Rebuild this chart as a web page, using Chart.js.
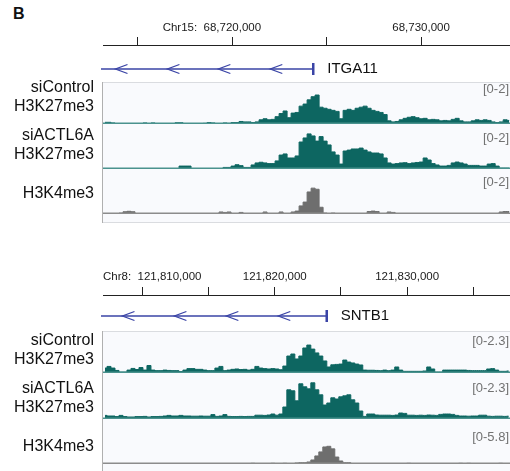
<!DOCTYPE html>
<html>
<head>
<meta charset="utf-8">
<script src="https://cdn.jsdelivr.net/npm/chart.js@4.4.0/dist/chart.umd.min.js"></script>
<style>
  body { margin: 0; background: #fff; width: 510px; height: 471px; position: relative; overflow: hidden; font-family: "Liberation Sans", Arial, sans-serif; }
  canvas { position: absolute; left: 0; }
  #c1 { top: 0; }
  #c2 { top: 245px; }
  .panel-tag { position: absolute; left: 13px; top: 5px; font: bold 16px "Liberation Sans", Arial, sans-serif; color: #111; }
</style>
</head>
<body>
<div class="panel-tag">B</div>
<canvas id="c1" width="510" height="240"></canvas>
<canvas id="c2" width="510" height="226"></canvas>
<script>
// ---------- panel 1: ITGA11 locus ----------
const p1Chrom = 'Chr15';
const p1Window = [68713148, 68734709];
const p1BinStart = 68713254;
const p1BinStep = 212;
const p1Gene = { name: 'ITGA11', start: 68700000, end: 68724286 };
const p1Arrows = [68713810, 68716561, 68719259, 68722011];
const p1TrackNames = [['siControl', 'H3K27me3'], ['siACTL6A', 'H3K27me3'], ['H3K4me3']];
const p1TrackMax = [2, 2, 2];

const p1SiControl = [
  0.08, 0.08, 0.05, 0, 0, 0, 0, 0, 0, 0,
  0.05, 0, 0.05, 0, 0, 0, 0, 0, 0.06, 0.06,
  0, 0, 0, 0, 0, 0.03, 0.07, 0.05, 0, 0.02,
  0.05, 0.03, 0.07, 0.07, 0.12, 0.10, 0.10, 0.07, 0.10, 0.20,
  0.25, 0.20, 0.22, 0.35, 0.50, 0.62, 0.30, 0.52, 0.55, 0.85,
  0.95, 1.15, 1.30, 1.38, 0.80, 0.75, 0.70, 0.65, 0.60, 0.25,
  0.65, 0.70, 0.65, 0.75, 0.80, 0.85, 0.75, 0.65, 0.60, 0.55,
  0.45, 0.15, 0.10, 0.12, 0.20, 0.27, 0.32, 0.35, 0.30, 0.25,
  0.27, 0.20, 0.22, 0.20, 0.15, 0.17, 0.15, 0.22, 0.27, 0.15,
  0.10, 0.10, 0.15, 0.20, 0.17, 0.20, 0.17, 0.10, 0.07, 0.10,
  0.20, 0.17
];
const p1SiACTL6A = [
  0, 0, 0, 0, 0, 0, 0, 0, 0, 0,
  0, 0, 0, 0, 0, 0, 0, 0, 0, 0.13,
  0.13, 0.13, 0, 0.02, 0, 0, 0, 0, 0, 0.02,
  0.07, 0.07, 0.13, 0.19, 0.15, 0.07, 0.07, 0.18, 0.27, 0.30,
  0.27, 0.24, 0.24, 0.36, 0.62, 0.67, 0.49, 0.49, 0.58, 1.20,
  1.38, 1.56, 1.47, 1.24, 1.44, 1.24, 1.07, 0.76, 0.62, 0.22,
  0.80, 0.84, 0.89, 0.89, 0.93, 0.84, 0.76, 0.71, 0.71, 0.67,
  0.49, 0.27, 0.22, 0.24, 0.27, 0.28, 0.24, 0.27, 0.29, 0.31,
  0.49, 0.40, 0.24, 0.18, 0.13, 0.13, 0.16, 0.27, 0.31, 0.27,
  0.22, 0.16, 0.16, 0.16, 0.13, 0.13, 0.22, 0.24, 0.13, 0.04,
  0.04, 0.04
];
const p1H3K4me3 = [
  0, 0, 0, 0, 0.04, 0.10, 0.12, 0.10, 0, 0,
  0, 0, 0, 0, 0, 0, 0, 0, 0, 0,
  0, 0, 0, 0, 0, 0, 0, 0, 0, 0.09,
  0.07, 0.09, 0, 0, 0.07, 0, 0, 0, 0, 0,
  0.09, 0, 0, 0, 0.09, 0.02, 0, 0.09, 0.13, 0.36,
  0.53, 0.98, 1.15, 1.10, 0.30, 0.04, 0.02, 0.04, 0, 0,
  0, 0, 0, 0, 0, 0, 0.11, 0.13, 0.11, 0,
  0, 0.09, 0.07, 0, 0, 0, 0, 0, 0, 0,
  0, 0, 0, 0, 0, 0, 0, 0, 0, 0,
  0, 0, 0, 0, 0, 0, 0, 0, 0, 0.09,
  0.11, 0.11
];

// ---------- panel 2: SNTB1 locus ----------
const p2Chrom = 'Chr8';
const p2Window = [121807019, 121837774];
const p2BinStart = 121807170;
const p2BinStep = 302;
const p2Gene = { name: 'SNTB1', start: 121790000, end: 121823925 };
const p2Arrows = [121808491, 121812415, 121816340, 121820264];
const p2TrackNames = [['siControl', 'H3K27me3'], ['siACTL6A', 'H3K27me3'], ['H3K4me3']];
const p2TrackMax = [2.3, 2.3, 5.8];

const p2SiControl = [
  0.27, 0.36, 0.27, 0.14, 0.05, 0.05, 0.16, 0.25, 0.19, 0.30,
  0.16, 0.41, 0.16, 0.13, 0.13, 0.16, 0.14, 0.13, 0.13, 0.08,
  0.16, 0.24, 0.24, 0.20, 0.20, 0.16, 0.13, 0.13, 0.27, 0.36,
  0.13, 0.16, 0.20, 0.22, 0.19, 0.20, 0.16, 0.20, 0.36, 0.27,
  0.24, 0.22, 0.24, 0.22, 0.18, 0.38, 0.93, 1.04, 0.77, 0.93,
  1.37, 1.53, 1.31, 1.10, 0.93, 0.66, 0.33, 0.45, 0.47, 0.49,
  0.71, 0.60, 0.55, 0.49, 0.44, 0.16, 0.15, 0.15, 0.14, 0.13,
  0.16, 0.13, 0.16, 0.33, 0.16, 0.09, 0.09, 0.09, 0.09, 0.09,
  0.11, 0.33, 0.22, 0.05, 0.05, 0.16, 0.16, 0.16, 0.16, 0.16,
  0.16, 0.14, 0.13, 0.13, 0.13, 0.13, 0.22, 0.24, 0.16, 0.09,
  0.09, 0.11
];
const p2SiACTL6A = [
  0.18, 0.15, 0.15, 0.12, 0.18, 0.12, 0.10, 0.10, 0.12, 0.12,
  0.13, 0.10, 0.12, 0.12, 0.13, 0.15, 0.18, 0.15, 0.15, 0.18,
  0.15, 0.15, 0.14, 0.14, 0.15, 0.14, 0.14, 0.22, 0.13, 0.15,
  0.22, 0.13, 0.12, 0.12, 0.13, 0.12, 0.13, 0.13, 0.19, 0.19,
  0.18, 0.20, 0.25, 0.19, 0.25, 0.60, 1.46, 1.41, 0.91, 1.76,
  1.61, 1.51, 1.81, 1.46, 1.21, 0.70, 0.80, 1.06, 1.00, 1.11,
  1.16, 1.21, 0.96, 0.80, 0.40, 0.13, 0.25, 0.25, 0.20, 0.19,
  0.19, 0.19, 0.18, 0.20, 0.30, 0.28, 0.19, 0.19, 0.18, 0.19,
  0.18, 0.20, 0.19, 0.18, 0.23, 0.25, 0.25, 0.23, 0.18, 0.15,
  0.15, 0.14, 0.15, 0.15, 0.19, 0.19, 0.14, 0.13, 0.14, 0.14,
  0.13, 0.14
];
const p2H3K4me3 = [
  0, 0, 0, 0, 0, 0, 0, 0, 0, 0,
  0, 0, 0, 0, 0, 0, 0, 0, 0, 0,
  0, 0, 0, 0, 0, 0, 0, 0, 0, 0,
  0, 0, 0, 0, 0, 0, 0, 0.09, 0.06, 0,
  0, 0, 0.09, 0, 0, 0.09, 0, 0, 0.13, 0.17,
  0.17, 0.26, 0.52, 1.04, 1.56, 2.20, 2.28, 1.95, 0.90, 0.39,
  0.17, 0.17, 0.06, 0, 0, 0, 0, 0, 0, 0,
  0, 0, 0, 0, 0, 0, 0.09, 0, 0, 0,
  0, 0, 0, 0, 0, 0, 0, 0, 0, 0.09,
  0, 0.09, 0, 0, 0, 0, 0, 0, 0, 0.09,
  0, 0
];

// ---------- drawing ----------
const FONT = '"Liberation Sans", Arial, sans-serif';
const TEAL = '#0d6661';
const GREY = '#6e6e6e';
const GENE_BLUE = '#3a44a6';
const RULER_STEP = 5000;

function stackScale(weight, max) {
  return { type: 'linear', position: 'right', stack: 'tracks', stackWeight: weight,
           min: 0, max: max || 1, display: false };
}

function makeIgvPlugin(cfg) {
  return {
    id: 'igv',
    beforeDatasetsDraw(chart) {
      const ctx = chart.ctx, area = chart.chartArea;
      const top = chart.scales.t1.top, bottom = area.bottom;
      ctx.save();
      ctx.fillStyle = '#f9fafd';
      ctx.fillRect(area.left, top, area.right - area.left, bottom - top);
      ctx.strokeStyle = '#dadce0';
      ctx.lineWidth = 1;
      ctx.beginPath();
      ctx.moveTo(area.left, top + 0.5); ctx.lineTo(area.right, top + 0.5);
      if (cfg.bottomBorder) { ctx.moveTo(area.left, bottom - 0.5); ctx.lineTo(area.right, bottom - 0.5); }
      ctx.stroke();
      ctx.strokeStyle = '#b0b0b0';
      ctx.beginPath();
      ctx.moveTo(area.left - 0.5, top); ctx.lineTo(area.left - 0.5, bottom);
      ctx.stroke();
      ctx.restore();
    },
    afterDatasetsDraw(chart) {
      const ctx = chart.ctx, area = chart.chartArea, x = chart.scales.x;
      ctx.save();

      // baselines + labels for each track
      ['t1', 't2', 't3'].forEach((id, k) => {
        const s = chart.scales[id];
        const base = s.getPixelForValue(0);
        ctx.strokeStyle = k === 2 ? '#8c8c8c' : '#4a928e';
        ctx.lineWidth = 1.5;
        ctx.beginPath();
        ctx.moveTo(area.left, base - 0.75); ctx.lineTo(area.right, base - 0.75);
        ctx.stroke();

        // track name on the left
        ctx.fillStyle = '#111';
        ctx.font = '16px ' + FONT;
        ctx.textAlign = 'right';
        ctx.textBaseline = 'middle';
        const lines = cfg.names[k];
        const mid = (s.top + s.bottom) / 2 + cfg.labelDy[k];
        lines.forEach((t, j) => {
          ctx.fillText(t, area.left - 9, mid + (j - (lines.length - 1) / 2) * 18.8);
        });

        // data range on the right
        ctx.fillStyle = '#727272';
        ctx.font = '13px ' + FONT;
        ctx.fillText('[0-' + cfg.max[k] + ']', area.right - 1, s.top + cfg.rangeDy[k]);
      });

      // gene model
      const g = chart.scales.gene;
      const gy = (g.top + g.bottom) / 2;
      const x0 = Math.max(x.getPixelForValue(cfg.gene.start), area.left - 2);
      const x1 = x.getPixelForValue(cfg.gene.end);
      ctx.strokeStyle = GENE_BLUE;
      ctx.lineWidth = 1.3;
      ctx.beginPath();
      ctx.moveTo(x0, gy); ctx.lineTo(x1, gy);
      ctx.stroke();
      cfg.arrows.forEach(pos => {
        const ax = x.getPixelForValue(pos);
        ctx.beginPath();
        ctx.moveTo(ax + 12, gy - 4.5); ctx.lineTo(ax, gy); ctx.lineTo(ax + 12, gy + 4.5);
        ctx.stroke();
      });
      ctx.lineWidth = 2.5;
      ctx.beginPath();
      ctx.moveTo(x1, gy - 6); ctx.lineTo(x1, gy + 6);
      ctx.stroke();
      ctx.fillStyle = '#111';
      ctx.font = '15px ' + FONT;
      ctx.textAlign = 'left';
      ctx.textBaseline = 'middle';
      ctx.fillText(cfg.gene.name, x1 + 14, gy);

      // ruler labels every 10 kb, first one carries the chromosome
      ctx.fillStyle = '#1a1a1a';
      ctx.font = '11.5px ' + FONT;
      ctx.textBaseline = 'middle';
      let first = true;
      x.ticks.forEach(t => {
        if (t.value % 10000 !== 0) return;
        const px = x.getPixelForValue(t.value);
        const num = t.value.toLocaleString('en-US');
        const nw = ctx.measureText(num).width;
        if (first) {
          const pre = cfg.chrom + ':  ';
          const pw = ctx.measureText(pre).width;
          const start = Math.max(px - nw / 2 - pw, area.left);
          ctx.textAlign = 'left';
          ctx.fillText(pre + num, start, cfg.rulerY);
          first = false;
        } else {
          ctx.textAlign = 'center';
          ctx.fillText(num, px, cfg.rulerY);
        }
      });
      ctx.restore();
    }
  };
}

function buildPanel(canvasId, cfg) {
  const positions = cfg.values[0].map((_, i) => cfg.binStart + i * cfg.binStep);
  const colors = [TEAL, TEAL, GREY];
  const datasets = cfg.values.map((vals, k) => ({
    yAxisID: 't' + (k + 1),
    data: vals.map((v, i) => ({ x: positions[i], y: v })),
    borderColor: colors[k],
    backgroundColor: colors[k],
    borderWidth: 1,
    fill: 'origin',
    stepped: 'middle',
    pointRadius: 0
  }));
  const w = cfg.weights;
  new Chart(document.getElementById(canvasId), {
    type: 'line',
    data: { datasets },
    options: {
      responsive: false,
      animation: false,
      devicePixelRatio: 1,
      layout: { padding: cfg.padding },
      plugins: { legend: { display: false }, tooltip: { enabled: false } },
      scales: {
        x: {
          type: 'linear',
          position: 'top',
          min: cfg.window[0],
          max: cfg.window[1],
          // ruler ticks on round 5 kb positions inside the window
          afterBuildTicks: scale => {
            const ticks = [];
            for (let v = Math.ceil(scale.min / RULER_STEP) * RULER_STEP; v <= scale.max; v += RULER_STEP) {
              ticks.push({ value: v });
            }
            scale.ticks = ticks;
          },
          ticks: { display: false, autoSkip: false },
          grid: { drawOnChartArea: false, drawTicks: true, tickLength: 8, color: '#222', lineWidth: 1 },
          border: { display: true, color: '#222', width: 1 }
        },
        pad: stackScale(w[0]),
        gene: stackScale(w[1]),
        t1: stackScale(w[2], cfg.max[0]),
        t2: stackScale(w[3], cfg.max[1]),
        t3: stackScale(w[4], cfg.max[2]),
        foot: stackScale(w[5])
      }
    },
    plugins: [makeIgvPlugin(cfg)]
  });
}

buildPanel('c1', {
  chrom: p1Chrom, window: p1Window, binStart: p1BinStart, binStep: p1BinStep,
  gene: p1Gene, arrows: p1Arrows, names: p1TrackNames, max: p1TrackMax,
  values: [p1SiControl, p1SiACTL6A, p1H3K4me3],
  weights: [11, 26, 42, 45, 45, 9],
  padding: { left: 103, right: 0, top: 37, bottom: 17 },
  labelDy: [-5.7, -1.4, 2.2],
  rangeDy: [7, 14.5, 13.5],
  rulerY: 28,
  bottomBorder: true
});

buildPanel('c2', {
  chrom: p2Chrom, window: p2Window, binStart: p2BinStart, binStep: p2BinStep,
  gene: p2Gene, arrows: p2Arrows, names: p2TrackNames, max: p2TrackMax,
  values: [p2SiControl, p2SiACTL6A, p2H3K4me3],
  weights: [6, 30, 42, 46, 45, 7],
  padding: { left: 103, right: 0, top: 42, bottom: 0 },
  labelDy: [-2, 2, 5.2],
  rangeDy: [10, 15.5, 18.8],
  rulerY: 32,
  bottomBorder: false
});
</script>
</body>
</html>
